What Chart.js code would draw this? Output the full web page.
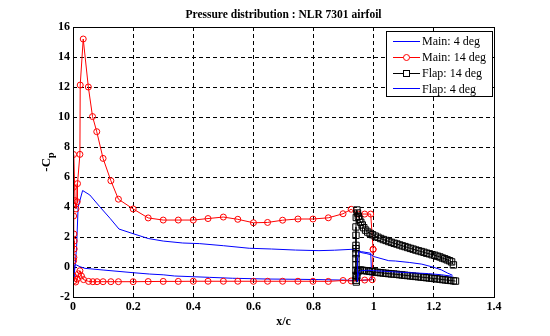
<!DOCTYPE html>
<html>
<head>
<meta charset="utf-8">
<script src="https://cdn.jsdelivr.net/npm/chart.js@4.4.0/dist/chart.umd.min.js"></script>
<style>
html, body { margin: 0; padding: 0; background: #fff; }
#wrap { width: 550px; height: 336px; }
</style>
</head>
<body>
<div id="wrap"><canvas id="cp" width="550" height="336"></canvas></div>
<script>
// values, [x/c, -Cp]
const seriesLabels = ['Main: 4 deg', 'Main: 14 deg', 'Flap: 14 deg', 'Flap: 4 deg'];

const main4Pts = [
  [0.992, -0.85], [0.992, 0.0], [0.99, 0.92], [0.96, 1.02], [0.928, 1.18], [0.87, 1.12],
  [0.818, 1.09], [0.74, 1.13], [0.66, 1.2], [0.586, 1.25], [0.5, 1.42], [0.42, 1.56],
  [0.365, 1.6], [0.3, 1.73], [0.25, 1.9], [0.2, 2.22], [0.153, 2.53], [0.123, 3.25],
  [0.089, 4.02], [0.056, 4.8], [0.032, 5.1], [0.017, 4.0], [0.012, 1.35], [0.008, 0.3],
  [0.004, -0.5], [0.003, -0.95], [0.006, 0.15], [0.012, 0.13], [0.023, 0.02], [0.04, -0.09],
  [0.1, -0.2], [0.2, -0.38], [0.255, -0.47], [0.3, -0.52], [0.338, -0.6], [0.454, -0.69],
  [0.531, -0.75], [0.641, -0.8], [0.75, -0.82], [0.818, -0.84], [0.917, -0.88], [0.939, -0.91],
  [0.992, -0.85]
];

const main14Pts = [
  [0.998, 1.18], [0.99, 3.53], [0.97, 3.53], [0.948, 3.53], [0.925, 3.85], [0.898, 3.55],
  [0.849, 3.28], [0.798, 3.2], [0.748, 3.2], [0.697, 3.12], [0.647, 2.97], [0.6, 2.95],
  [0.548, 3.18], [0.5, 3.33], [0.449, 3.23], [0.4, 3.13], [0.35, 3.13], [0.3, 3.13],
  [0.25, 3.27], [0.2, 3.87], [0.151, 4.52], [0.126, 5.75], [0.1, 7.24], [0.079, 9.02],
  [0.065, 10.03], [0.051, 12.0], [0.034, 15.2], [0.024, 12.13], [0.023, 7.51], [0.015, 5.56],
  [0.014, 4.35], [0.01, 3.87], [0.007, 4.42], [0.002, 7.5], [0.001, 5.31], [0.002, 3.4],
  [0.003, 2.2], [0.004, 1.73], [0.004, 1.2], [0.003, 0.64], [0.002, 0.42], [0.001, -0.6],
  [0.004, -0.91], [0.009, -1.0], [0.014, -0.8], [0.018, -0.45], [0.023, -0.25], [0.028, -0.6],
  [0.035, -0.84], [0.052, -0.96], [0.066, -0.98], [0.08, -0.98], [0.1, -0.98], [0.126, -0.98],
  [0.151, -0.98], [0.2, -0.98], [0.25, -0.97], [0.3, -0.96], [0.35, -0.96], [0.4, -0.95],
  [0.449, -0.95], [0.5, -0.95], [0.548, -0.95], [0.6, -0.95], [0.647, -0.95], [0.697, -0.95],
  [0.748, -0.95], [0.798, -0.95], [0.849, -0.96], [0.898, -0.9], [0.925, -0.93], [0.97, -0.87],
  [0.995, -0.85], [0.998, 1.18]
];

const flap14Pts = [
  [1.265, 0.14], [1.259, 0.34], [1.252, 0.42], [1.244, 0.48], [1.236, 0.55], [1.228, 0.6],
  [1.22, 0.67], [1.212, 0.72], [1.203, 0.78], [1.194, 0.82], [1.185, 0.88], [1.176, 0.92],
  [1.167, 0.98], [1.158, 1.03], [1.149, 1.08], [1.14, 1.13], [1.131, 1.19], [1.122, 1.24],
  [1.113, 1.3], [1.104, 1.36], [1.095, 1.41], [1.086, 1.47], [1.077, 1.53], [1.068, 1.58],
  [1.059, 1.64], [1.05, 1.7], [1.041, 1.77], [1.032, 1.83], [1.023, 1.9], [1.014, 1.98],
  [1.005, 2.06], [0.996, 2.15], [0.988, 2.24], [0.98, 2.33], [0.973, 2.46], [0.967, 2.62],
  [0.962, 2.8], [0.957, 2.98], [0.953, 3.18], [0.949, 3.38], [0.946, 3.6], [0.944, 3.8],
  [0.942, 3.3], [0.941, 2.67], [0.941, 2.11], [0.941, 1.44], [0.941, 1.22], [0.941, 0.89],
  [0.941, 0.56], [0.941, 0.15], [0.941, -0.22], [0.941, -0.56], [0.941, -0.88], [0.942, -1.0],
  [0.944, -0.6], [0.947, -0.32], [0.951, -0.22], [0.956, -0.2], [0.962, -0.22], [0.969, -0.24],
  [0.977, -0.26], [0.986, -0.29], [0.995, -0.31], [1.004, -0.33], [1.013, -0.36], [1.022, -0.38],
  [1.031, -0.4], [1.04, -0.42], [1.049, -0.44], [1.058, -0.46], [1.067, -0.47], [1.076, -0.49],
  [1.085, -0.51], [1.094, -0.53], [1.103, -0.55], [1.112, -0.57], [1.121, -0.59], [1.13, -0.61],
  [1.139, -0.63], [1.148, -0.65], [1.157, -0.67], [1.166, -0.69], [1.175, -0.71], [1.184, -0.73],
  [1.193, -0.75], [1.202, -0.77], [1.211, -0.79], [1.22, -0.81], [1.229, -0.84], [1.238, -0.86],
  [1.247, -0.88], [1.256, -0.9], [1.265, -0.92], [1.272, -0.94]
];

const flap4Pts = [
  [1.262, -0.55], [1.245, -0.4], [1.226, -0.2], [1.2, -0.02], [1.16, 0.19], [1.12, 0.3],
  [1.072, 0.4], [1.05, 0.42], [1.0, 0.7], [0.994, 0.8], [0.975, 0.9], [0.961, 0.95],
  [0.95, 1.02], [0.947, 0.6], [0.946, -0.2], [0.946, -0.97], [0.948, -0.6], [0.952, -0.32],
  [0.96, -0.24], [0.98, -0.22], [1.0, -0.24], [1.04, -0.29], [1.072, -0.33], [1.12, -0.38],
  [1.182, -0.44], [1.226, -0.52], [1.262, -0.62]
];

const xTicks = [0, 0.2, 0.4, 0.6, 0.8, 1, 1.2, 1.4];
const xTickLabels = ['0', '0.2', '0.4', '0.6', '0.8', '1', '1.2', '1.4'];
const yTicks = [-2, 0, 2, 4, 6, 8, 10, 12, 14, 16];
const yTickLabels = ['-2', '0', '2', '4', '6', '8', '10', '12', '14', '16'];

const serif = '"Liberation Serif", "Times New Roman", serif';

function toXY(pts) {
  return pts.map(p => ({x: p[0], y: p[1]}));
}

// frame, title, axis labels and the boxed legend, MATLAB style
const decorations = {
  id: 'decorations',
  afterDraw(chart) {
    const ctx = chart.ctx;
    const a = chart.chartArea;
    ctx.save();
    ctx.strokeStyle = '#000';
    ctx.lineWidth = 1;
    ctx.setLineDash([]);
    ctx.strokeRect(Math.round(a.left) + 0.5, Math.round(a.top) + 0.5,
      Math.round(a.right - a.left), Math.round(a.bottom - a.top));

    ctx.fillStyle = '#000';
    ctx.textAlign = 'center';
    ctx.textBaseline = 'middle';
    ctx.font = 'bold 11.5px ' + serif;
    ctx.fillText('Pressure distribution : NLR 7301 airfoil', (a.left + a.right) / 2, 15);

    ctx.font = 'bold 12px ' + serif;
    ctx.fillText('x/c', (a.left + a.right) / 2, 322);

    // -Cp with subscript p
    ctx.save();
    ctx.translate(47, (a.top + a.bottom) / 2);
    ctx.rotate(-Math.PI / 2);
    ctx.textAlign = 'left';
    ctx.font = 'bold 13px ' + serif;
    const w1 = ctx.measureText('-C').width;
    ctx.font = 'bold 10px ' + serif;
    const w2 = ctx.measureText('p').width;
    ctx.font = 'bold 13px ' + serif;
    ctx.fillText('-C', -(w1 + w2) / 2, 0);
    ctx.font = 'bold 10px ' + serif;
    ctx.fillText('p', -(w1 + w2) / 2 + w1, 4);
    ctx.restore();

    // legend
    const lx = 386.5, ly = 31.5, lw = 106, lh = 65;
    ctx.fillStyle = '#fff';
    ctx.fillRect(lx, ly, lw, lh);
    ctx.strokeStyle = '#000';
    ctx.strokeRect(lx, ly, lw, lh);
    ctx.font = '12px ' + serif;
    ctx.textAlign = 'left';
    chart.data.datasets.forEach((ds, i) => {
      const y = ly + 9.5 + i * 15.8;
      ctx.strokeStyle = ds.borderColor;
      ctx.lineWidth = 1;
      ctx.beginPath();
      ctx.moveTo(393, Math.round(y) + 0.5);
      ctx.lineTo(420, Math.round(y) + 0.5);
      ctx.stroke();
      const mx = 406.5, my = Math.round(y) + 0.5;
      if (ds.pointStyle === 'circle' && ds.pointRadius > 0) {
        ctx.fillStyle = '#fff';
        ctx.beginPath();
        ctx.arc(mx, my, 3, 0, Math.PI * 2);
        ctx.fill();
        ctx.stroke();
      } else if (ds.pointStyle === 'rect' && ds.pointRadius > 0) {
        ctx.fillStyle = '#fff';
        ctx.fillRect(mx - 3, my - 3, 6, 6);
        ctx.strokeRect(mx - 3, my - 3, 6, 6);
      }
      ctx.fillStyle = '#000';
      ctx.fillText(seriesLabels[i], 422, y + 1);
    });
    ctx.restore();
  }
};

const tickFont = {family: serif, size: 12, weight: 'bold'};

new Chart(document.getElementById('cp'), {
  type: 'scatter',
  data: {
    datasets: [
      {
        label: seriesLabels[0], data: toXY(main4Pts), showLine: true,
        borderColor: '#0000ff', borderWidth: 1, pointRadius: 0, pointStyle: false, order: 4
      },
      {
        label: seriesLabels[1], data: toXY(main14Pts), showLine: true,
        borderColor: '#ff0000', borderWidth: 1, pointStyle: 'circle', pointRadius: 3,
        pointBorderColor: '#ff0000', pointBackgroundColor: 'rgba(0,0,0,0)', pointBorderWidth: 1, order: 3
      },
      {
        label: seriesLabels[2], data: toXY(flap14Pts), showLine: true,
        borderColor: '#000000', borderWidth: 1, pointStyle: 'rect', pointRadius: 4.5,
        pointBorderColor: '#000000', pointBackgroundColor: 'rgba(0,0,0,0)', pointBorderWidth: 1, order: 2
      },
      {
        label: seriesLabels[3], data: toXY(flap4Pts), showLine: true,
        borderColor: '#0000ff', borderWidth: 1, pointRadius: 0, pointStyle: false, order: 1
      }
    ]
  },
  options: {
    responsive: false,
    animation: false,
    events: [],
    devicePixelRatio: 1,
    layout: {padding: {top: 27, right: 56, bottom: 0, left: 0}},
    elements: {line: {tension: 0}},
    plugins: {
      legend: {display: false},
      title: {display: false},
      tooltip: {enabled: false}
    },
    scales: {
      x: {
        type: 'linear', min: 0, max: 1.4,
        afterBuildTicks: s => { s.ticks = xTicks.map(v => ({value: v})); },
        afterFit: s => { s.height = 39; },
        ticks: {
          autoSkip: false, maxRotation: 0, padding: 3, color: '#000', font: tickFont,
          callback: (v, i) => xTickLabels[i]
        },
        grid: {color: '#000', lineWidth: 1, drawTicks: false},
        border: {display: false, dash: [4, 3]}
      },
      y: {
        type: 'linear', min: -2, max: 16,
        afterBuildTicks: s => { s.ticks = yTicks.map(v => ({value: v})); },
        afterFit: s => { s.width = 73; },
        ticks: {
          autoSkip: false, padding: 3, color: '#000', font: tickFont,
          callback: (v, i) => yTickLabels[i]
        },
        grid: {color: '#000', lineWidth: 1, drawTicks: false},
        border: {display: false, dash: [4, 3]}
      }
    }
  },
  plugins: [decorations]
});
</script>
</body>
</html>
